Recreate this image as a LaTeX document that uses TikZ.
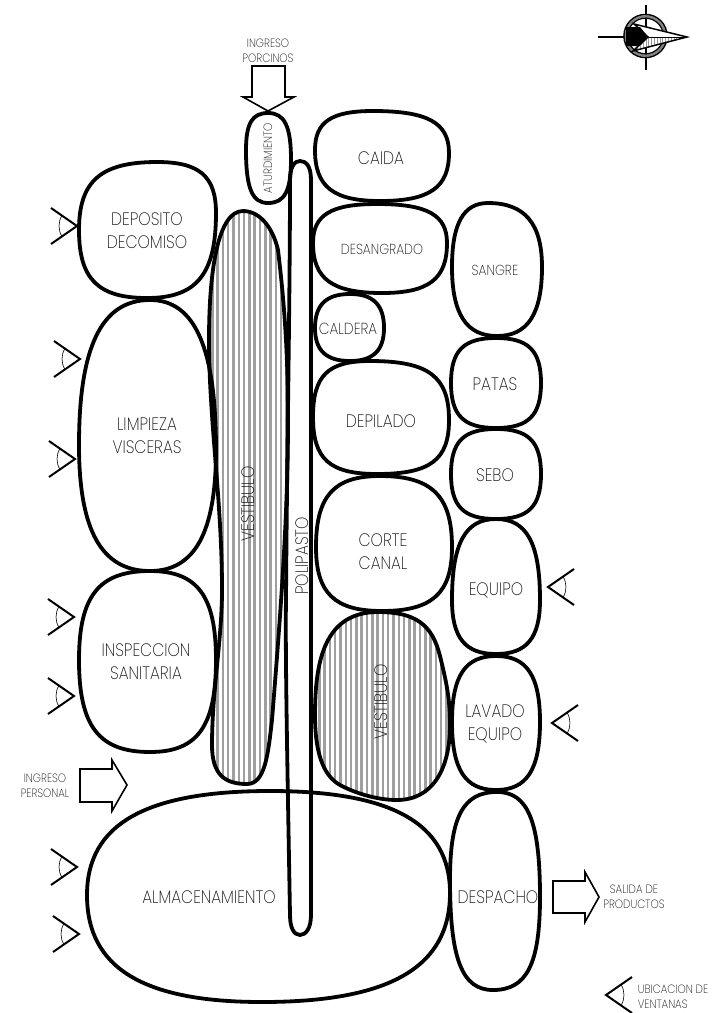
\documentclass[tikz,border=0pt]{standalone}
\usepackage{fontspec}
\setmainfont{Poppins ExtraLight}[FakeStretch=0.87]
\definecolor{labelc}{gray}{0.08}
\tikzset{
  outline/.style={line width=3.8pt,line join=round},
  thinout/.style={line width=1.6pt,line join=miter},
  lab/.style={text=labelc,align=center,font=\fontsize{18}{23}\selectfont,inner sep=0pt},
  smalllab/.style={text=labelc,align=center,font=\fontsize{12}{14.5}\selectfont,inner sep=0pt},
  eyeline/.style={line width=2pt},
  eyearc/.style={line width=0.6pt},
  hatchline/.style={line width=2.5pt,gray!75!white},
}
% left top right bottom k topx botx lefty righty
\newcommand\blob[9]{%
  \pgfmathsetmacro\bk{#5}%
  \pgfmathsetmacro\atx{#6+(#3-#6)*\bk}\pgfmathsetmacro\aty{#9-(#9-#2)*\bk}%
  \pgfmathsetmacro\brx{#7+(#3-#7)*\bk}\pgfmathsetmacro\bry{#9+(#4-#9)*\bk}%
  \pgfmathsetmacro\clx{#7-(#7-#1)*\bk}\pgfmathsetmacro\cly{#8+(#4-#8)*\bk}%
  \pgfmathsetmacro\dlx{#6-(#6-#1)*\bk}\pgfmathsetmacro\dly{#8-(#8-#2)*\bk}%
  \draw[outline] (#6,#2) .. controls (\atx,#2) and (#3,\aty) .. (#3,#9)
    .. controls (#3,\bry) and (\brx,#4) .. (#7,#4)
    .. controls (\clx,#4) and (#1,\cly) .. (#1,#8)
    .. controls (#1,\dly) and (\dlx,#2) .. (#6,#2) -- cycle;}
\newcommand\eye[3]{% apex x, apex y, direction (1 apex right, -1 apex left)
  \begin{scope}[shift={(#1,#2)},xscale=#3]
    \draw[eyeline] (-26,-18) -- (0,0) -- (-26,18);
    \draw[eyearc] (-15,-10.5) .. controls (-19,-4) and (-19,4) .. (-15,10.5);
  \end{scope}}
\newcommand\vestA{(243,211) .. controls (260,211) and (273,228) .. (278,250)
  .. controls (284,300) and (288,350) .. (288,420)
  .. controls (288,520) and (280,620) .. (272,720)
  .. controls (268,755) and (265,784) .. (247,784)
  .. controls (225,784) and (212,775) .. (212,745)
  .. controls (212,690) and (222,640) .. (222,590)
  .. controls (222,500) and (209,420) .. (209,340)
  .. controls (209,270) and (218,211) .. (243,211) -- cycle}
\newcommand\vestB{(378,612) .. controls (422,612) and (434,630) .. (441,660)
  .. controls (447,685) and (450,700) .. (450,725)
  .. controls (450,770) and (432,800) .. (397,800)
  .. controls (375,800) and (353,792) .. (340,785)
  .. controls (322,775) and (315,750) .. (315,715)
  .. controls (315,660) and (325,612) .. (378,612) -- cycle}
\begin{document}
\begin{tikzpicture}[x=1pt,y=-1pt]
\useasboundingbox (0,0) rectangle (725,1013);
% hatched vestibules
\begin{scope}\clip \vestA;
  \foreach \i in {0,...,17}{\draw[hatchline] (207+\i*5.3,205) -- (207+\i*5.3,790);}
\end{scope}
\begin{scope}\clip \vestB;
  \foreach \i in {0,...,26}{\draw[hatchline] (314+\i*5.3,610) -- (314+\i*5.3,805);}
\end{scope}
\draw[outline] \vestA;
\draw[outline] \vestB;
% rooms
\blob{79}{162}{216}{298}{0.72}{157}{147}{230}{213}
\blob{79}{300}{216}{571}{0.68}{150}{150}{445}{450}
\blob{79}{571}{216}{752}{0.72}{150}{150}{660}{660}
\blob{87}{791}{450}{1002}{0.68}{270}{262}{895}{893}
\blob{246}{113}{291}{203}{0.72}{268}{268}{150}{160}
\blob{315}{111}{449}{201}{0.72}{373}{380}{150}{153}
\blob{313}{204}{447}{293}{0.72}{377}{382}{243}{243}
\blob{315}{294}{384}{361}{0.68}{350}{350}{328}{328}
\blob{313}{361}{449}{474}{0.74}{370}{377}{417}{420}
\blob{316}{476}{452}{611}{0.72}{380}{382}{547}{547}
\blob{452}{203}{542}{336}{0.68}{488}{497}{267}{267}
\blob{451}{338}{541}{428}{0.72}{496}{496}{383}{383}
\blob{451}{429}{541}{519}{0.72}{496}{496}{474}{474}
\blob{452}{519}{540}{654}{0.7}{496}{496}{600}{600}
\blob{452}{656}{540}{790}{0.7}{496}{496}{722}{722}
\blob{450}{792}{540}{990}{0.72}{497}{493}{880}{897}
% hoist rail
\draw[outline] (290,180) .. controls (290,166) and (295,161) .. (300,161)
  .. controls (306,161) and (311,166) .. (311,180) -- (311,915)
  .. controls (311,928) and (306,935) .. (300,935)
  .. controls (294,935) and (290,928) .. (290,915)
  .. controls (288,800) and (285,650) .. (286,600)
  .. controls (287,450) and (290,300) .. (290,180) -- cycle;
% labels
\node[lab] (deposito) at (147,231) {DEPOSITO\\DECOMISO};
\node[lab] (limpieza) at (147,436) {LIMPIEZA\\VISCERAS};
\node[lab] (inspeccion) at (146,662) {INSPECCION\\SANITARIA};
\node[lab] (almacen) at (209,897) {ALMACENAMIENTO};
\node[smalllab,rotate=90] (aturd) at (268,158) {ATURDIMIENTO};
\node[lab] (caida) at (381,158) {CAIDA};
\node[lab,font=\fontsize{14.5}{15}\selectfont] (desang) at (382,249) {DESANGRADO};
\node[lab,font=\fontsize{16}{15}\selectfont] (caldera) at (348,329) {CALDERA};
\node[lab] (depilado) at (381,421) {DEPILADO};
\node[lab] (corte) at (383,552) {CORTE\\CANAL};
\node[lab,font=\fontsize{14.5}{15}\selectfont] (sangre) at (495,270) {SANGRE};
\node[lab] (patas) at (495,384) {PATAS};
\node[lab] (sebo) at (495,475) {SEBO};
\node[lab] (equipo) at (496,590) {EQUIPO};
\node[lab] (lavado) at (495,724) {LAVADO\\EQUIPO};
\node[lab] (despacho) at (498,897) {DESPACHO};
\node[lab,rotate=90] (vest1) at (248,504) {VESTIBULO};
\node[lab,rotate=90] (vest2) at (381,702) {VESTIBULO};
\node[lab,rotate=90] (polip) at (302,556) {POLIPASTO};
\node[smalllab] (porcinos) at (268,51) {INGRESO\\PORCINOS};
\node[smalllab] (personal) at (45,786) {INGRESO\\PERSONAL};
\node[smalllab] (salida) at (634,897) {SALIDA DE\\PRODUCTOS};
\node[smalllab,align=left] (ubic) at (673,997) {UBICACION DE\\VENTANAS};
% block arrows
\draw[thinout] (252,66) -- (285,66) -- (285,97) -- (294,97) -- (268,111) -- (243,97) -- (252,97) -- cycle;
\draw[thinout] (80,769) -- (112,769) -- (112,760) -- (127,785) -- (112,811) -- (112,802) -- (80,802) -- cycle;
\draw[thinout] (553,881) -- (585,881) -- (585,872) -- (599,897) -- (585,922) -- (585,913) -- (553,913) -- cycle;
% windows
\eye{77}{226}{1}
\eye{80}{359}{1}
\eye{75}{459}{1}
\eye{74}{617}{1}
\eye{74}{696}{1}
\eye{77}{867}{1}
\eye{79}{934}{1}
\eye{548}{587}{-1}
\eye{552}{723}{-1}
\eye{606}{995}{-1}
% compass
\draw[line width=1.6pt] (598,37) -- (625,37);
\draw[line width=1.6pt] (646,5) -- (646,70);
\draw[line width=1.6pt] (645.5,36) circle (21.5);
\draw[line width=2.4pt,gray] (645.5,36) circle (19.6);
\draw[line width=1.2pt] (645.5,36) circle (17.8);
\fill[white] (634,24) -- (687,37) -- (633,51) -- (648,37) -- cycle;
\fill[black] (626,27) -- (640,27) -- (648,37) -- (640,46) -- (626,46) -- cycle;
\begin{scope}
  \clip (687,37) -- (648,37) -- (633,51) -- cycle;
  \foreach \i in {0,...,20}{\draw[line width=1pt,gray!80] (632+\i*2.8,35) -- (632+\i*2.8,52);}
\end{scope}
\draw[line width=1.5pt,line join=miter] (687,37) -- (634,24) -- (648,37) -- (633,51) -- cycle;
\draw[line width=0.8pt] (648,37) -- (687,37);
\end{tikzpicture}
\end{document}
